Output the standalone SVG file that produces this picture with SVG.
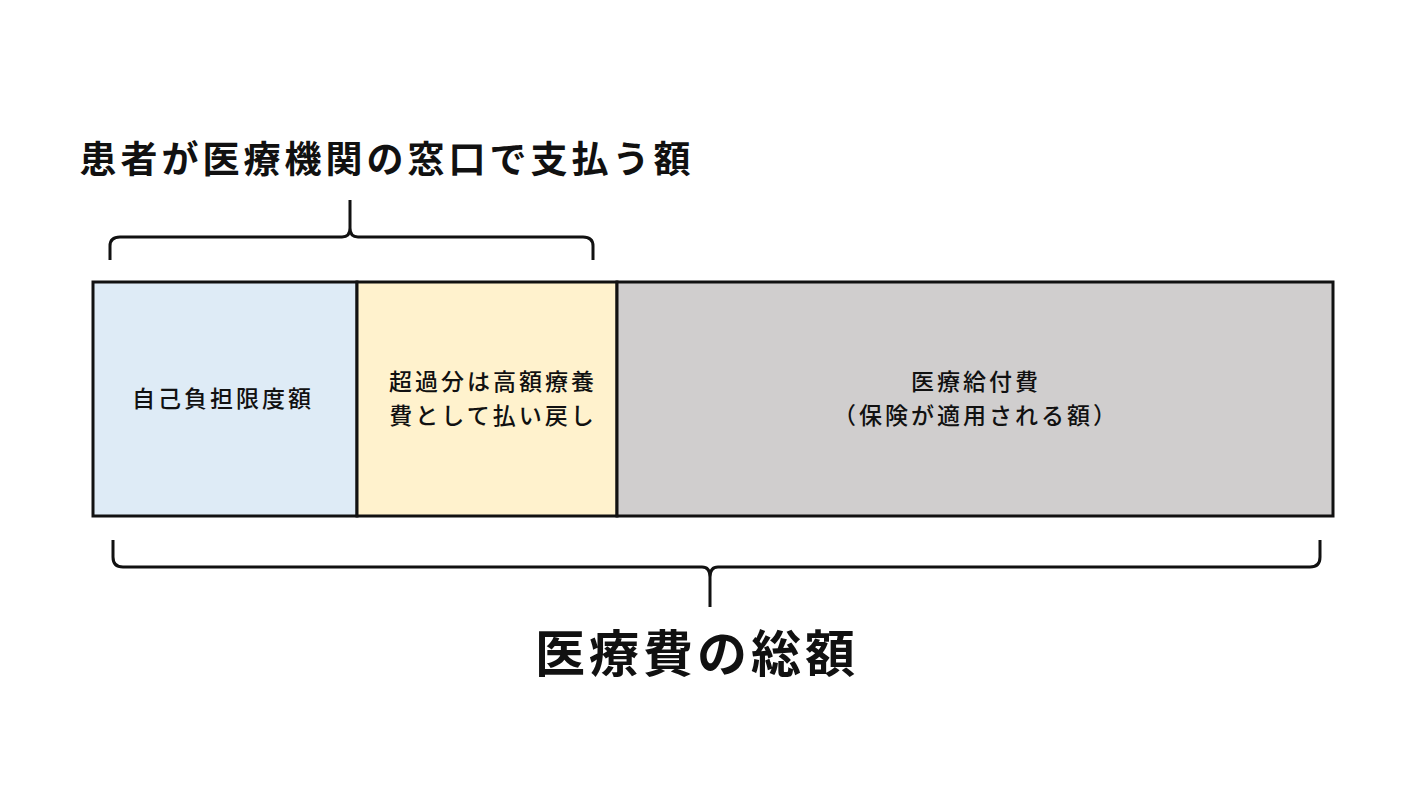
<svg xmlns="http://www.w3.org/2000/svg" width="1420" height="799" viewBox="0 0 1420 799">
<style>
text{font-family:"Noto Sans CJK JP","Noto Sans",sans-serif;fill:#111;text-anchor:middle}
.box{stroke:#111;stroke-width:3}
.br{fill:none;stroke:#111;stroke-width:3}
.lbl{font-size:23px;font-weight:500;letter-spacing:3px}
</style>
<rect width="1420" height="799" fill="#fff"/>
<text x="387" y="173" font-size="37" font-weight="bold" letter-spacing="4">患者が医療機関の窓口で支払う額</text>
<g id="connectors">
<path class="br" d="M110,260 V246 Q110,237 120,237 H342 Q350,237 350,228 V200 M350,228 Q350,237 358,237 H583 Q593,237 593,246 V260"/>
<path class="br" d="M113,540 V557 Q113,567 123,567 H702 Q710,567 710,577 V607 M710,577 Q710,567 718,567 H1310 Q1320,567 1320,557 V540"/>
</g>
<g id="n1"><rect class="box" x="93" y="282" width="264" height="234" fill="#deebf6"/>
<text class="lbl" x="223" y="407">自己負担限度額</text></g>
<g id="n2"><rect class="box" x="357" y="282" width="260" height="234" fill="#fff2cd"/>
<text class="lbl" x="493" y="390">超過分は高額療養</text><text class="lbl" x="493" y="424">費として払い戻し</text></g>
<g id="n3"><rect class="box" x="617" y="282" width="716" height="234" fill="#d0cece"/>
<text class="lbl" x="976" y="390">医療給付費</text><text class="lbl" x="976" y="424">（保険が適用される額）</text></g>
<text x="697" y="672" font-size="50" font-weight="bold" letter-spacing="4">医療費の総額</text>
</svg>
